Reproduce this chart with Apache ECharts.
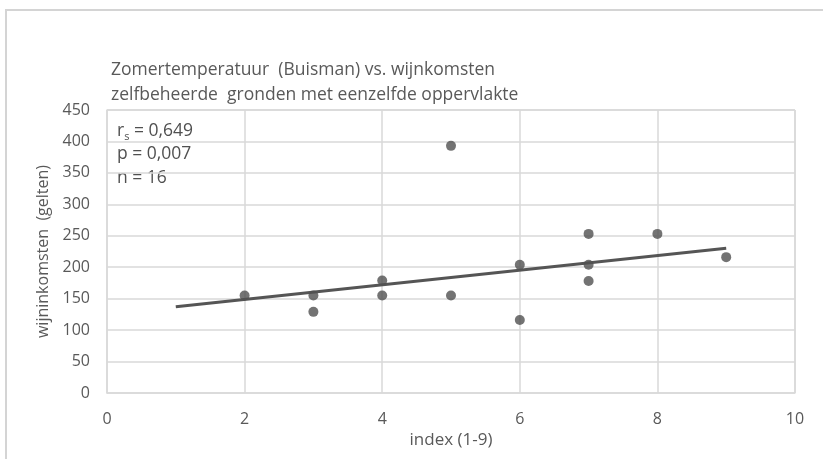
<!DOCTYPE html>
<html><head><meta charset="utf-8">
<script src="https://cdn.jsdelivr.net/npm/echarts@6/dist/echarts.min.js"></script>
<style>html,body{margin:0;padding:0;background:#fff}#c{width:823px;height:459px}</style>
</head><body><div id="c"></div>
<script>
const titleLines = ['Zomertemperatuur  (Buisman) vs. wijnkomsten', 'zelfbeheerde  gronden met eenzelfde oppervlakte'];
const xAxisName = 'index (1-9)';
const yAxisName = 'wijninkomsten  (gelten)';
const pointsX = [2, 3, 3, 4, 4, 5, 5, 6, 6, 7, 7, 7, 8, 9];
const pointsY = [155, 155, 129, 179, 155, 155, 393, 204, 116, 253, 204, 178, 253, 216];
const trendX = [1, 9];
const trendY = [137, 230];
const statLabels = ['= 0,649', 'p = 0,007', 'n = 16'];

const FONT = 'Open Sans';
const TXT = '#595959';
const chart = echarts.init(document.getElementById('c'));
chart.setOption({
  animation: false,
  textStyle: { fontFamily: FONT },
  grid: { left: 107, top: 110, right: 28, bottom: 66, show: false },
  xAxis: {
    type: 'value', min: 0, max: 10, interval: 2,
    name: xAxisName, nameLocation: 'middle', nameGap: 32,
    nameTextStyle: { color: TXT, fontSize: 17, fontFamily: FONT },
    axisLine: { show: true, lineStyle: { color: '#d9d9d9', width: 1.5 } },
    axisTick: { show: false },
    axisLabel: { color: TXT, fontSize: 16, margin: 18 },
    splitLine: { show: true, lineStyle: { color: '#d9d9d9', width: 1.5 } }
  },
  yAxis: {
    type: 'value', min: 0, max: 450, interval: 50,
    name: yAxisName, nameLocation: 'middle', nameGap: 53,
    nameTextStyle: { color: TXT, fontSize: 16, fontFamily: FONT },
    axisLine: { show: true, lineStyle: { color: '#d9d9d9', width: 1.5 } },
    axisTick: { show: false },
    axisLabel: { color: TXT, fontSize: 16, margin: 17 },
    splitLine: { show: true, lineStyle: { color: '#d9d9d9', width: 1.5 } }
  },
  graphic: [
    { type: 'rect', shape: { x: 6, y: 10, width: 830, height: 460 }, style: { fill: 'none', stroke: '#d4d4d4', lineWidth: 2 }, z: -1 },
    { type: 'line', shape: { x1: 795, y1: 110, x2: 795, y2: 393 }, style: { stroke: '#d9d9d9', lineWidth: 1.5 } },
    { type: 'line', shape: { x1: 107, y1: 110, x2: 795, y2: 110 }, style: { stroke: '#d9d9d9', lineWidth: 1.5 } },
    { type: 'text', left: 111, top: 58, style: { text: titleLines.join('\n'), fill: TXT, font: '17.5px ' + FONT, lineHeight: 25 } },
    { type: 'text', left: 117, top: 122, style: {
        text: '{r|r}{s|s}{r| ' + statLabels[0] + '}\n{r|' + statLabels[1] + '}\n{r|' + statLabels[2] + '}',
        rich: { r: { fill: '#505050', fontSize: 17.5, fontFamily: FONT, lineHeight: 23.5 }, s: { fill: '#505050', fontSize: 11, fontFamily: FONT, verticalAlign: 'bottom', padding: [9, 0, 0, 0], lineHeight: 23.5 } }
    } }
  ],
  series: [
    { type: 'line', data: trendX.map((x, i) => [x, trendY[i]]), symbol: 'none', lineStyle: { color: '#555555', width: 3 }, z: 3 },
    { type: 'scatter', data: pointsX.map((x, i) => [x, pointsY[i]]), symbolSize: 10, itemStyle: { color: '#505050' }, z: 4 }
  ]
});
</script></body></html>
